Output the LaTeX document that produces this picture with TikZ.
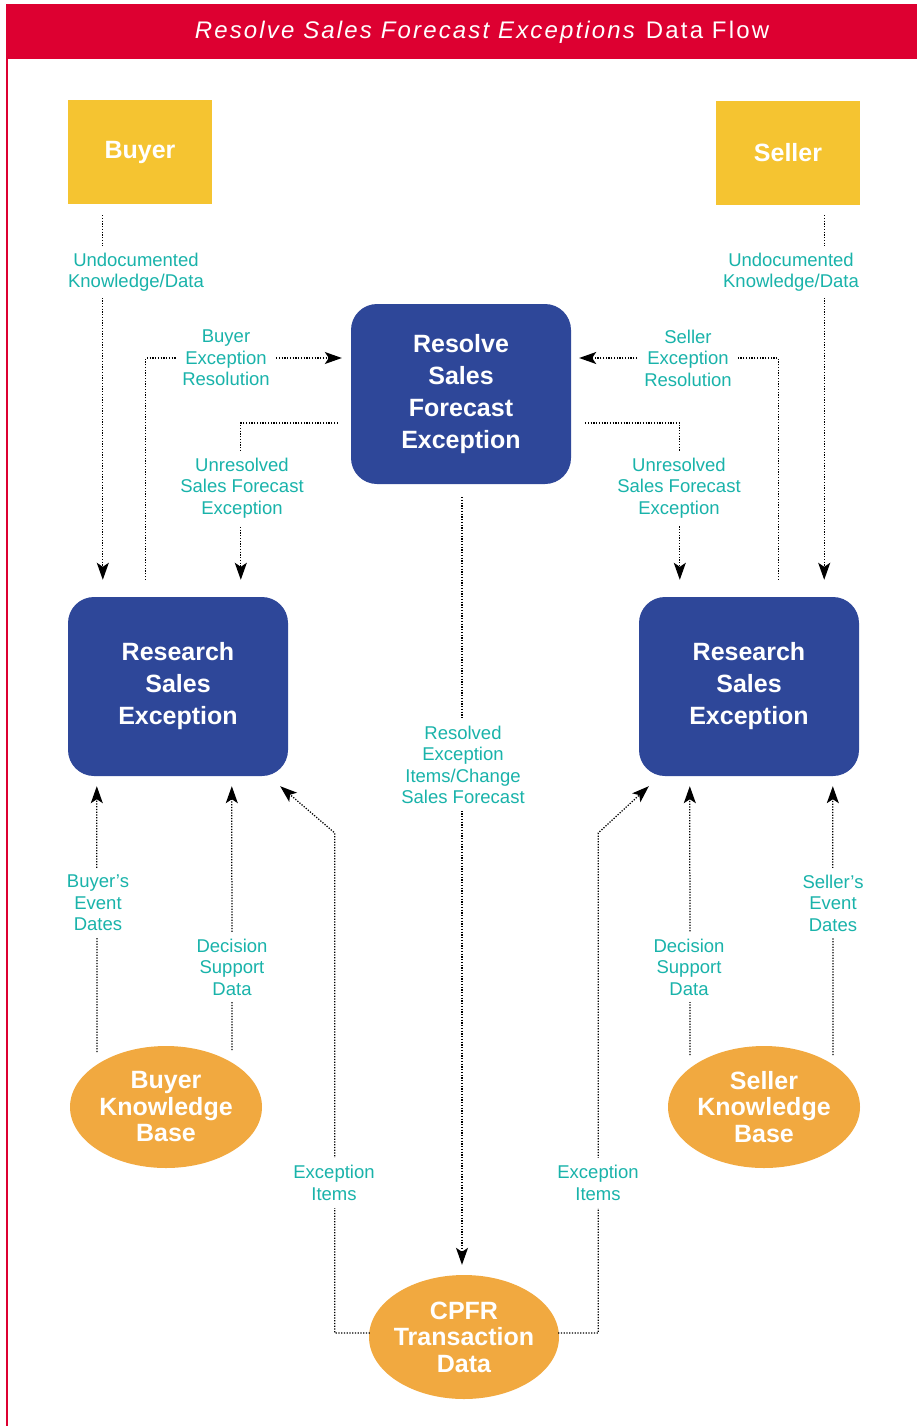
\documentclass[tikz,border=0pt]{standalone}
\usepackage{fontspec}
\setmainfont{Liberation Sans}
\newfontfamily\headfont[LetterSpace=9]{Liberation Sans}
\usetikzlibrary{arrows.meta,shapes.geometric,calc}
\definecolor{hdred}{HTML}{DD0031}
\definecolor{actorgold}{HTML}{F5C431}
\definecolor{procblue}{HTML}{2E4799}
\definecolor{storeorange}{HTML}{F1A940}
\definecolor{flowteal}{HTML}{19B3AA}
\tikzset{
  actor/.style={fill=actorgold,draw=none,minimum width=144pt,minimum height=104pt,inner sep=0pt,
    text=white,font=\fontsize{25}{30}\selectfont\bfseries},
  process/.style={fill=procblue,draw=none,rounded corners=26pt,minimum width=220pt,minimum height=180pt,
    inner sep=0pt,align=center,text=white,font=\fontsize{25}{32}\selectfont\bfseries},
  store/.style={ellipse,fill=storeorange,draw=none,minimum width=192pt,minimum height=122pt,inner sep=-25pt,
    align=center,text=white,font=\fontsize{25}{26.5}\selectfont\bfseries},
  flow/.style={draw=black,line width=1.25pt,dash pattern=on 1.25pt off 1.5pt,
    -{Stealth[length=17pt,width=12pt,inset=4pt]}},
  flowlabel/.style={fill=white,text=flowteal,align=center,inner xsep=5pt,inner ysep=7pt,
    font=\fontsize{18.5}{21.5}\selectfont}
}
\begin{document}
\begin{tikzpicture}[x=1pt,y=-1pt]
\useasboundingbox (0,0) rectangle (917,1426);
% frame and heading band
\fill[hdred] (6,4) rectangle (917,59);
\fill[hdred] (6,59) rectangle (8,1426);
\node[text=white,font=\headfont\fontsize{24}{28}\selectfont] (title) at (482,32)
  {\textit{Resolve Sales Forecast Exceptions} Data Flow};

% actors
\node[actor] (buyer) at (140,152) {Buyer};
\node[actor] (seller) at (788,153) {Seller};

% processes
\node[process] (resolve) at (461,394) {Resolve\\Sales\\Forecast\\Exception};
\node[process,minimum height=179pt] (resL) at (178,686.5) {Research\\Sales\\Exception};
\node[process,minimum height=179pt] (resR) at (749,686.5) {Research\\Sales\\Exception};

% data stores
\node[store] (kbB) at (166,1107) {Buyer\\Knowledge\\Base};
\node[store] (kbS) at (764,1107) {Seller\\Knowledge\\Base};
\node[store,minimum width=190pt,minimum height=124pt] (cpfr) at (464,1337) {CPFR\\Transaction\\Data};

% flows
\draw[flow] ([shift={(35,11)}]buyer.south west) -- ([shift={(35,-17)}]resL.north west);
\draw[flow] ([shift={(-36,10)}]seller.south east) -- ([shift={(-35,-17)}]resR.north east);
\draw[flow] ([shift={(78,-17)}]resL.north west) |- ([shift={(-9,-36)}]resolve.west);
\draw[flow] ([shift={(-13,29)}]resolve.west) -| ([shift={(173,-17)}]resL.north west);
\draw[flow] ([shift={(-81,-17)}]resR.north east) |- ([shift={(8,-36)}]resolve.east);
\draw[flow] ([shift={(14,29)}]resolve.east) -| ([shift={(41,-17)}]resR.north west);
\draw[flow] ([shift={(1,13)}]resolve.south) -- ([shift={(-2,-10)}]cpfr.north);
\draw[flow] ([shift={(-69,-55)}]kbB.center) -- ([shift={(29,10)}]resL.south west);
\draw[flow] ([shift={(66,-57)}]kbB.center) -- ([shift={(164,10)}]resL.south west);
\draw[flow] ([shift={(1,-4)}]cpfr.west) -- ++(-35,0) -- ++(0,-500) -- ([shift={(-8,10)}]resL.south east);
\draw[flow] ([shift={(-1,-4)}]cpfr.east) -- ++(40,0) -- ++(0,-500) -- ([shift={(10,10)}]resR.south west);
\draw[flow] ([shift={(-74,-52)}]kbS.center) -- ([shift={(51,10)}]resR.south west);
\draw[flow] ([shift={(69,-52)}]kbS.center) -- ([shift={(194,10)}]resR.south west);

% flow labels
\node[flowlabel] (l1) at (136,272) {Undocumented\\Knowledge/Data};
\node[flowlabel] (l2) at (791,272) {Undocumented\\Knowledge/Data};
\node[flowlabel] (l3) at (226,358) {Buyer\\Exception\\Resolution};
\node[flowlabel] (l4) at (242,488) {Unresolved\\Sales Forecast\\Exception};
\node[flowlabel] (l5) at (688,358) {Seller\\Exception\\Resolution};
\node[flowlabel] (l6) at (679,488) {Unresolved\\Sales Forecast\\Exception};
\node[flowlabel] (l7) at (463,765) {Resolved\\Exception\\Items/Change\\Sales Forecast};
\node[flowlabel] (l8) at (98,903) {Buyer’s\\Event\\Dates};
\node[flowlabel] (l9) at (232,967) {Decision\\Support\\Data};
\node[flowlabel] (l10) at (334,1183) {Exception\\Items};
\node[flowlabel] (l11) at (598,1183) {Exception\\Items};
\node[flowlabel] (l12) at (689,967) {Decision\\Support\\Data};
\node[flowlabel] (l13) at (833,903) {Seller’s\\Event\\Dates};
\end{tikzpicture}
\end{document}
